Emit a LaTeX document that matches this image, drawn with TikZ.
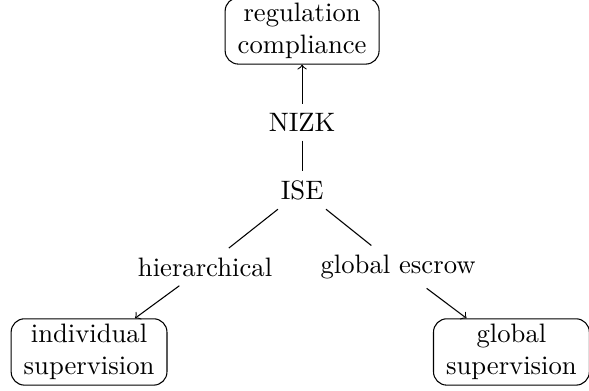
\documentclass[tikz,border=0pt]{standalone}
\begin{document}
\begin{tikzpicture}[x=1pt,y=1pt,
  box/.style={draw,rounded corners=5pt,align=center,inner xsep=4.7pt,inner ysep=2pt},
  lbl/.style={}]
\useasboundingbox (0,0) rectangle (220.9,-146.3);
\node[box] (reg) at (113.3,-11.6) {regulation\\compliance};
\node[lbl] (nizk) at (113.3,-45.8) {NIZK};
\node[lbl] (ise) at (113.3,-71.3) {ISE};
\node[lbl] (hier) at (76.9,-100.1) {hierarchical};
\node[lbl] (esc) at (149.3,-100.1) {global escrow};
\node[box] (ind) at (33.4,-132) {individual\\supervision};
\node[box] (glob) at (191.8,-132) {global\\supervision};
\draw[->] (nizk) -- (reg);
\draw (nizk) -- (ise);
\draw (ise) -- (hier);
\draw (ise) -- (esc);
\draw[->] (hier) -- (ind);
\draw[->] (esc) -- (glob);
\end{tikzpicture}
\end{document}
